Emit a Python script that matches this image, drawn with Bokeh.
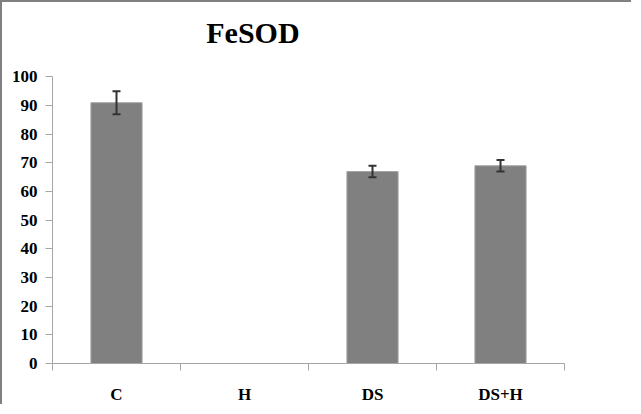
from bokeh.plotting import figure
from bokeh.models import FixedTicker, ColumnDataSource, Whisker, Range1d
from bokeh.core.properties import value
from bokeh.embed import file_html
from bokeh.resources import INLINE

categories = ["C", "H", "DS", "DS+H"]
values = [91, 0, 67, 69]
errors = [4, 0, 2, 2]
y_ticks = [0, 10, 20, 30, 40, 50, 60, 70, 80, 90, 100]
title_text = ["FeSOD"]

SERIF = "'Liberation Serif', 'Times New Roman', serif"

# frame: 362 px tall, value 100 sits 73 px below frame top (289 px per 100 units)
FRAME_H = 362
Y_MAX = FRAME_H / 289 * 100

xs = [i + 0.5 for i in range(len(categories))]
src = ColumnDataSource(dict(x=xs, top=values))
eb_src = ColumnDataSource(dict(
    x=[x for x, e in zip(xs, errors) if e > 0],
    upper=[v + e for v, e in zip(values, errors) if e > 0],
    lower=[v - e for v, e in zip(values, errors) if e > 0],
))

p = figure(width=631, height=404, output_backend="svg", toolbar_location=None,
           x_range=Range1d(0, len(categories)), y_range=Range1d(0, Y_MAX),
           min_border_left=50, min_border_right=69, min_border_top=2, min_border_bottom=40)
p.styles = {"border-left": "2px solid #808080", "border-top": "2px solid #808080"}

p.text(x=[1.566], y=[115.5], text=title_text, text_font=value("Times New Roman"),
       text_font_size="30px", text_font_style="bold", text_color="black",
       text_align="center", text_baseline="alphabetic")

p.vbar(x="x", top="top", width=0.4, source=src, fill_color="#808080",
       line_color="#a6a6a6", line_width=1)

w = Whisker(base="x", upper="upper", lower="lower", source=eb_src,
            line_color="#333333", line_width=2, level="overlay")
for h in (w.upper_head, w.lower_head):
    h.size = 8
    h.line_color = "#333333"
    h.line_width = 2
p.add_layout(w)

p.xgrid.visible = False
p.ygrid.visible = False
p.outline_line_color = None
p.background_fill_color = "white"
p.border_fill_color = "white"

xa = p.xaxis[0]
xa.ticker = FixedTicker(ticks=xs, minor_ticks=list(range(len(categories) + 1)))
xa.major_label_overrides = {x: c for x, c in zip(xs, categories)}
xa.major_tick_out = 0
xa.major_tick_in = 0
xa.minor_tick_out = 7
xa.minor_tick_in = 0
xa.minor_tick_line_color = "#a6a6a6"
xa.axis_line_color = "#a6a6a6"
xa.major_label_text_font = SERIF
xa.major_label_text_font_style = "bold"
xa.major_label_text_font_size = "17px"
xa.major_label_text_color = "black"
xa.major_label_standoff = 14

ya = p.yaxis[0]
ya.ticker = FixedTicker(ticks=y_ticks, minor_ticks=[])
ya.bounds = (0, 100)
ya.major_tick_out = 7
ya.major_tick_in = 0
ya.major_tick_line_color = "#a6a6a6"
ya.axis_line_color = "#a6a6a6"
ya.major_label_text_font = SERIF
ya.major_label_text_font_style = "bold"
ya.major_label_text_font_size = "17px"
ya.major_label_text_color = "black"
ya.major_label_standoff = 8

open("out.html", "w").write(file_html(p, INLINE))
